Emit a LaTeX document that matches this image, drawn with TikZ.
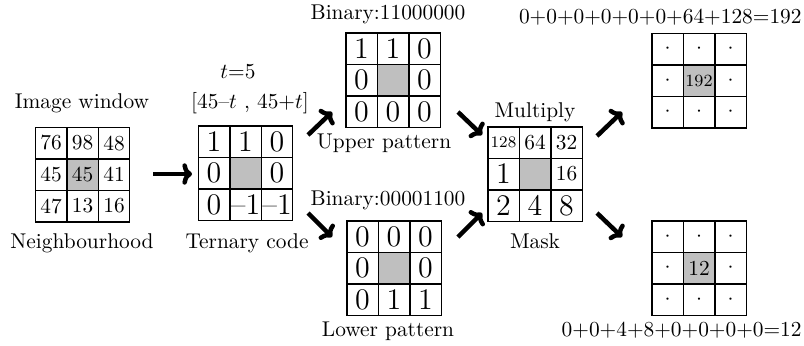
\documentclass[tikz,border=0pt]{standalone}
\usetikzlibrary{arrows.meta}
\newlength\pxu \setlength\pxu{0.468pt}
\newlength\cellsz \setlength\cellsz{14.74pt}
\newcommand\cellbig{\fontsize{14}{16}\selectfont}
\colorlet{centreshade}{gray!50}
\tikzset{
  px/.style={x=\pxu, y=-\pxu},
  cell/.style={draw, line width=0.7pt, minimum size=\cellsz, inner sep=0pt, outer sep=0pt},
  lbl/.style={inner sep=0pt, text height=7pt, text depth=2pt},
  flow/.style={line width=2.1pt, -{To[length=4.5pt, width=10pt]}}
}
% 3x3 grid of cells: name, centre x, centre y, font, nine entries row by row
\newcommand\cellgrid[5]{%
  \foreach \txt [count=\k from 0] in {#5} {%
    \pgfmathtruncatemacro\rr{div(\k,3)}%
    \pgfmathtruncatemacro\cc{mod(\k,3)}%
    \ifnum\k=4 \def\cfill{centreshade}\else\def\cfill{none}\fi
    \node[cell, fill=\cfill, font=#4] (#1-\k) at ({#2+(\cc-1)*31.5},{#3+(\rr-1)*31.5}) {\txt};
  }}
\begin{document}
\begin{tikzpicture}[px]
\useasboundingbox (0,0) rectangle (804,345);

% image window
\node[lbl] (lwin) at (82,103) {Image window};
\cellgrid{win}{82.5}{174.5}{\normalsize}{76,98,48,45,45,41,47,13,16}
\node[lbl] (lnb) at (82,243) {Neighbourhood};

% ternary code
\node[lbl] (lt) at (238,73) {$t$=5};
\node[lbl] (lint) at (250,103) {[45--$t$ , 45+$t$]};
\cellgrid{ter}{245.5}{173}{\cellbig}{1,1,0,0,{},0,0,--1,--1}
\node[lbl] (lter) at (247,243) {Ternary code};

% upper and lower patterns
\node[lbl] (lbu) at (388,14) {Binary:11000000};
\cellgrid{up}{393}{80}{\cellbig}{1,1,0,0,{},0,0,0,0}
\node[lbl] (lup) at (384,143) {Upper pattern};
\node[lbl] (lbl) at (388,200) {Binary:00001100};
\cellgrid{lo}{394}{268}{\cellbig}{0,0,0,0,{},0,0,1,1}
\node[lbl] (llo) at (388,331) {Lower pattern};

% weight mask
\node[lbl] (lmul) at (535,112) {Multiply};
\cellgrid{mask}{535}{174}{\normalsize}{{\fontsize{7.5}{9}\selectfont 128},64,32,{\cellbig 1},{},16,{\cellbig 2},{\cellbig 4},{\cellbig 8}}
\node[lbl] (lmask) at (535,243) {Mask};

% resulting codes
\node[lbl, anchor=east] (lsu) at (802,18) {0+0+0+0+0+0+64+128=192};
\cellgrid{ru}{699}{80.5}{\normalsize}{$\cdot$,$\cdot$,$\cdot$,$\cdot$,{\footnotesize 192},$\cdot$,$\cdot$,$\cdot$,$\cdot$}
\cellgrid{rl}{699}{268}{\normalsize}{$\cdot$,$\cdot$,$\cdot$,$\cdot$,12,$\cdot$,$\cdot$,$\cdot$,$\cdot$}
\node[lbl, anchor=east] (lsl) at (802,331) {0+0+4+8+0+0+0+0=12};

% arrows between the stages
\coordinate (a1s) at (153,174); \coordinate (a1e) at (192,174);
\coordinate (a2s) at (308,135); \coordinate (a2e) at (332,112);
\coordinate (a3s) at (308,213); \coordinate (a3e) at (332,237);
\coordinate (a4s) at (458,112); \coordinate (a4e) at (482,135);
\coordinate (a5s) at (458,237); \coordinate (a5e) at (482,213);
\coordinate (a6s) at (597,136); \coordinate (a6e) at (622,112);
\coordinate (a7s) at (597,213); \coordinate (a7e) at (622,237);
\foreach \a in {1,...,7} \draw[flow] (a\a s) -- (a\a e);
\end{tikzpicture}
\end{document}
